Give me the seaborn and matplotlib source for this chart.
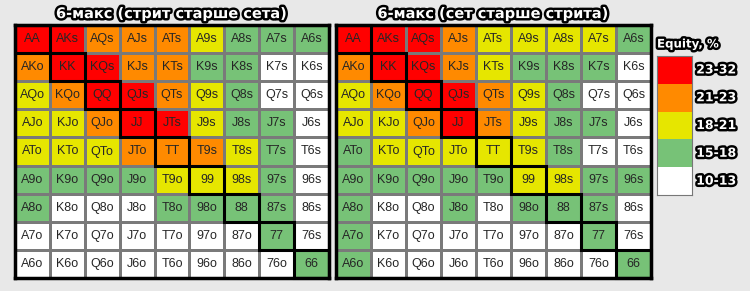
import numpy as np
import pandas as pd
import seaborn as sns
import matplotlib.pyplot as plt
from matplotlib.colors import ListedColormap
from matplotlib.patches import Rectangle
import matplotlib.patheffects as pe

ranks = ["A", "K", "Q", "J", "T", "9", "8", "7", "6"]

# equity class per cell: 0=10-13, 1=15-18, 2=18-21, 3=21-23, 4=23-32
left_cls = [
    [4, 4, 3, 3, 3, 2, 1, 1, 1],
    [3, 4, 4, 3, 3, 1, 1, 0, 0],
    [2, 3, 4, 4, 3, 2, 1, 0, 0],
    [2, 2, 3, 4, 4, 2, 1, 1, 0],
    [2, 2, 2, 3, 3, 3, 2, 1, 0],
    [1, 1, 1, 1, 2, 2, 2, 1, 0],
    [1, 0, 0, 0, 1, 1, 1, 1, 0],
    [0, 0, 0, 0, 0, 0, 0, 1, 0],
    [0, 0, 0, 0, 0, 0, 0, 0, 1],
]
right_cls = [
    [4, 4, 4, 3, 2, 2, 2, 2, 1],
    [3, 4, 4, 3, 2, 1, 1, 1, 0],
    [2, 3, 4, 4, 3, 2, 1, 0, 0],
    [2, 2, 3, 4, 3, 2, 1, 1, 0],
    [1, 2, 2, 2, 2, 2, 1, 0, 0],
    [1, 1, 1, 1, 1, 2, 2, 1, 1],
    [1, 0, 0, 1, 0, 1, 1, 1, 0],
    [1, 0, 0, 0, 0, 0, 0, 1, 0],
    [1, 0, 0, 0, 0, 0, 0, 0, 1],
]
titles = ["6-макс (стрит старше сета)", "6-макс (сет старше стрита)"]
legend_title = "Equity, %"
legend_labels = ["23-32", "21-23", "18-21", "15-18", "10-13"]
colors = ["#ffffff", "#77c277", "#e6e600", "#ff8a00", "#ff0000"]

def hand_labels():
    lab = []
    for i, r1 in enumerate(ranks):
        row = []
        for j, r2 in enumerate(ranks):
            if i == j:
                row.append(r1 + r2)
            elif j > i:
                row.append(r1 + r2 + "s")
            else:
                row.append(r2 + r1 + "o")
        lab.append(row)
    return np.array(lab)

labels = hand_labels()
cmap = ListedColormap(colors)
bg = "#e8e8e8"

sns.set_theme(style="white")
plt.rcParams["font.family"] = ["DejaVu Sans"]

fig = plt.figure(figsize=(7.5, 2.91), dpi=100)
fig.patch.set_facecolor(bg)

stroke = [pe.withStroke(linewidth=3.5, foreground="black")]

axes_pos = [[15/750, 1-278/291, 314/750, 253/291],
            [336/750, 1-278/291, 315/750, 253/291]]
for k, (cls, title) in enumerate(zip([left_cls, right_cls], titles)):
    ax = fig.add_axes(axes_pos[k])
    df = pd.DataFrame(cls, index=ranks, columns=ranks)
    sns.heatmap(df, ax=ax, cmap=cmap, vmin=-0.5, vmax=4.5, cbar=False,
                annot=labels, fmt="", linewidths=1, linecolor="#7a7a7a",
                annot_kws={"fontsize": 9, "color": "#262626",
                           "family": "Liberation Sans"})
    ax.set_xticks([])
    ax.set_yticks([])
    ax.set_xlabel("")
    ax.set_ylabel("")
    for i in range(len(ranks)):
        ax.add_patch(Rectangle((i, i), 1, 1, fill=False, edgecolor="black",
                               linewidth=2.2, zorder=5, clip_on=False))
    for s in ax.spines.values():
        s.set_visible(True)
        s.set_linewidth(2.5)
        s.set_color("black")
    ax.set_title(title, fontsize=10.5, fontweight="bold", color="white",
                 path_effects=stroke, pad=5)

# legend
lax = fig.add_axes([657/750, 1-195/291, 35/750, 139/291])
ldf = pd.DataFrame([[4], [3], [2], [1], [0]], index=legend_labels)
sns.heatmap(ldf, ax=lax, cmap=cmap, vmin=-0.5, vmax=4.5, cbar=False,
            linewidths=0)
lax.set_xticks([])
lax.set_yticks([])
lax.set_ylabel("")
for s in lax.spines.values():
    s.set_visible(True)
    s.set_linewidth(0.8)
    s.set_color("#777777")
for i, lab in enumerate(legend_labels):
    lax.text(1.12, i + 0.5, lab, transform=lax.transData, ha="left",
             va="center", fontsize=9, fontweight="bold", color="white",
             path_effects=stroke, clip_on=False)
fig.text(657/750, 1-44/291, legend_title, ha="left", va="center",
         fontsize=8.5, fontweight="bold", color="white", path_effects=stroke)

fig.savefig("out.png", dpi=100, facecolor=bg)
